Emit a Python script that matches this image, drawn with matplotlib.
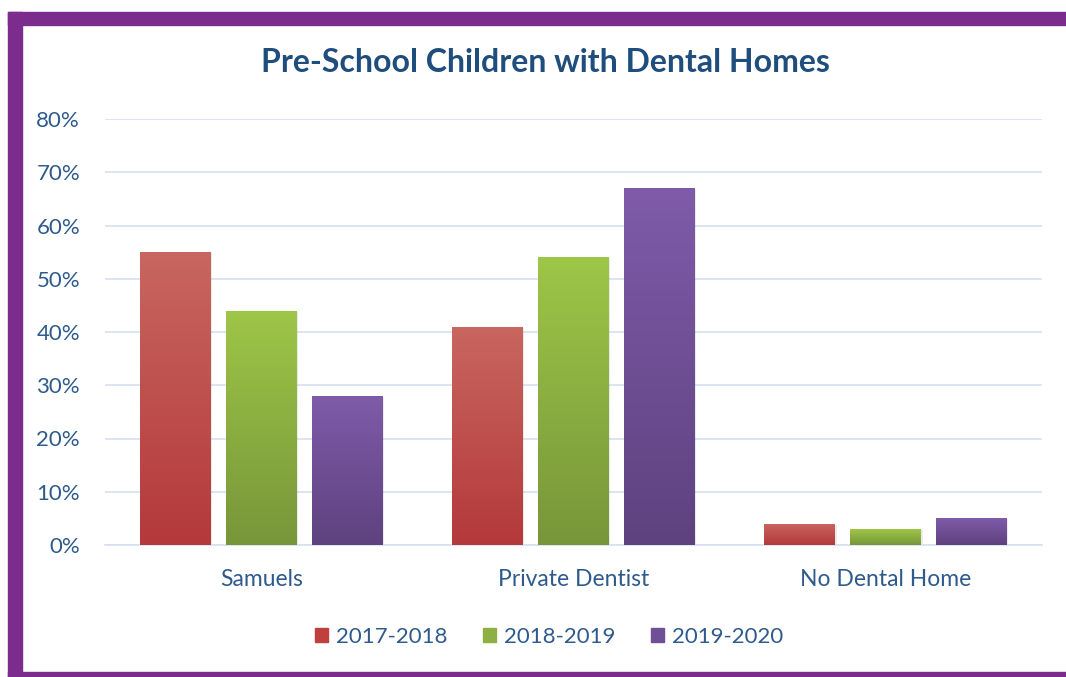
import matplotlib
matplotlib.use("Agg")
import matplotlib.pyplot as plt
import numpy as np
from matplotlib.patches import Rectangle
from matplotlib.colors import LinearSegmentedColormap

categories = ["Samuels", "Private Dentist", "No Dental Home"]
series_names = ["2017-2018", "2018-2019", "2019-2020"]
values_2017 = [0.55, 0.41, 0.04]
values_2018 = [0.44, 0.54, 0.03]
values_2019 = [0.28, 0.67, 0.05]
yticks = [0.0, 0.1, 0.2, 0.3, 0.4, 0.5, 0.6, 0.7, 0.8]
ytick_labels = ["0%", "10%", "20%", "30%", "40%", "50%", "60%", "70%", "80%"]
title = "Pre-School Children with Dental Homes"

series = [values_2017, values_2018, values_2019]
grad = [("#C8665F", "#B4393A"), ("#9EC647", "#77963A"), ("#7F5BA9", "#5E427F")]
solid = ["#C0504D", "#9BBB59", "#8064A2"]
legend_col = ["#C0403D", "#8DB043", "#6F4F95"]

plt.rcParams['font.family'] = ['Lato', 'DejaVu Sans']
W, H = 1066, 677
fig = plt.figure(figsize=(W / 100, H / 100), dpi=100)
fig.patch.set_facecolor("white")

# purple frame
purple = "#7B2C8C"
fig.add_artist(Rectangle((8 / W, 0), 14 / W, 1 - 12 / H, transform=fig.transFigure, color=purple, zorder=0))
fig.add_artist(Rectangle((8 / W, 1 - 25 / H), 1 - 8 / W, 13 / H, transform=fig.transFigure, color=purple, zorder=0))
fig.add_artist(Rectangle((8 / W, 0), 1 - 8 / W, 5 / H, transform=fig.transFigure, color=purple, zorder=0))

ax = fig.add_axes([105 / W, 132 / H, 937 / W, 426 / H])
ax.set_xlim(-0.5, 2.5)
ax.set_ylim(0, 0.8)

bw = 0.227
off = 0.275
x = np.arange(len(categories))
for i, vals in enumerate(series):
    cmap = LinearSegmentedColormap.from_list("g%d" % i, [grad[i][1], grad[i][0]])
    bars = ax.bar(x + (i - 1) * off, vals, width=bw, color=solid[i], label=series_names[i],
                  zorder=3, edgecolor="none")
    for b in bars:
        bx, by = b.get_x(), b.get_y()
        bwid, bh = b.get_width(), b.get_height()
        b.set_facecolor("none")
        # soft shadow
        ax.add_patch(Rectangle((bx + 0.004, by), bwid, bh - 0.002, color="#000000", alpha=0.08, zorder=2, lw=0))
        g = np.linspace(0, 1, 256).reshape(-1, 1)
        im = ax.imshow(g, cmap=cmap, origin="lower", extent=[bx, bx + bwid, by, by + bh],
                       aspect="auto", zorder=3)
        im.set_clip_path(b)
ax.set_xlim(-0.5, 2.5)
ax.set_ylim(0, 0.8)

ax.set_yticks(yticks)
ax.set_yticklabels(ytick_labels)
ax.set_xticks(x)
ax.set_xticklabels(categories)
ax.grid(axis="y", color="#D5E2F0", linewidth=1.2, zorder=0)
ax.set_axisbelow(True)
for s in ["top", "right", "left"]:
    ax.spines[s].set_visible(False)
ax.spines["bottom"].set_color("#D5E2F0")
ax.spines["bottom"].set_linewidth(1.2)
ax.tick_params(axis="both", length=0, colors="#2E5A8C")
ax.tick_params(axis="y", pad=18, labelsize=16)
ax.tick_params(axis="x", pad=17, labelsize=16.5)

fig.text(545 / W, 1 - 63 / H, title, ha="center", va="center", fontsize=23,
         fontweight="bold", color="#1F4E7D")

handles = [Rectangle((0, 0), 1, 1, color=legend_col[i]) for i in range(3)]
leg = fig.legend(handles, series_names, loc="center", bbox_to_anchor=(549 / W, 1 - 637 / H),
                 ncol=3, frameon=False, fontsize=16, handlelength=0.6, handleheight=0.6,
                 handletextpad=0.35, columnspacing=1.6)
for t in leg.get_texts():
    t.set_color("#2E5A8C")

fig.savefig("out.png", dpi=100, facecolor="white")
